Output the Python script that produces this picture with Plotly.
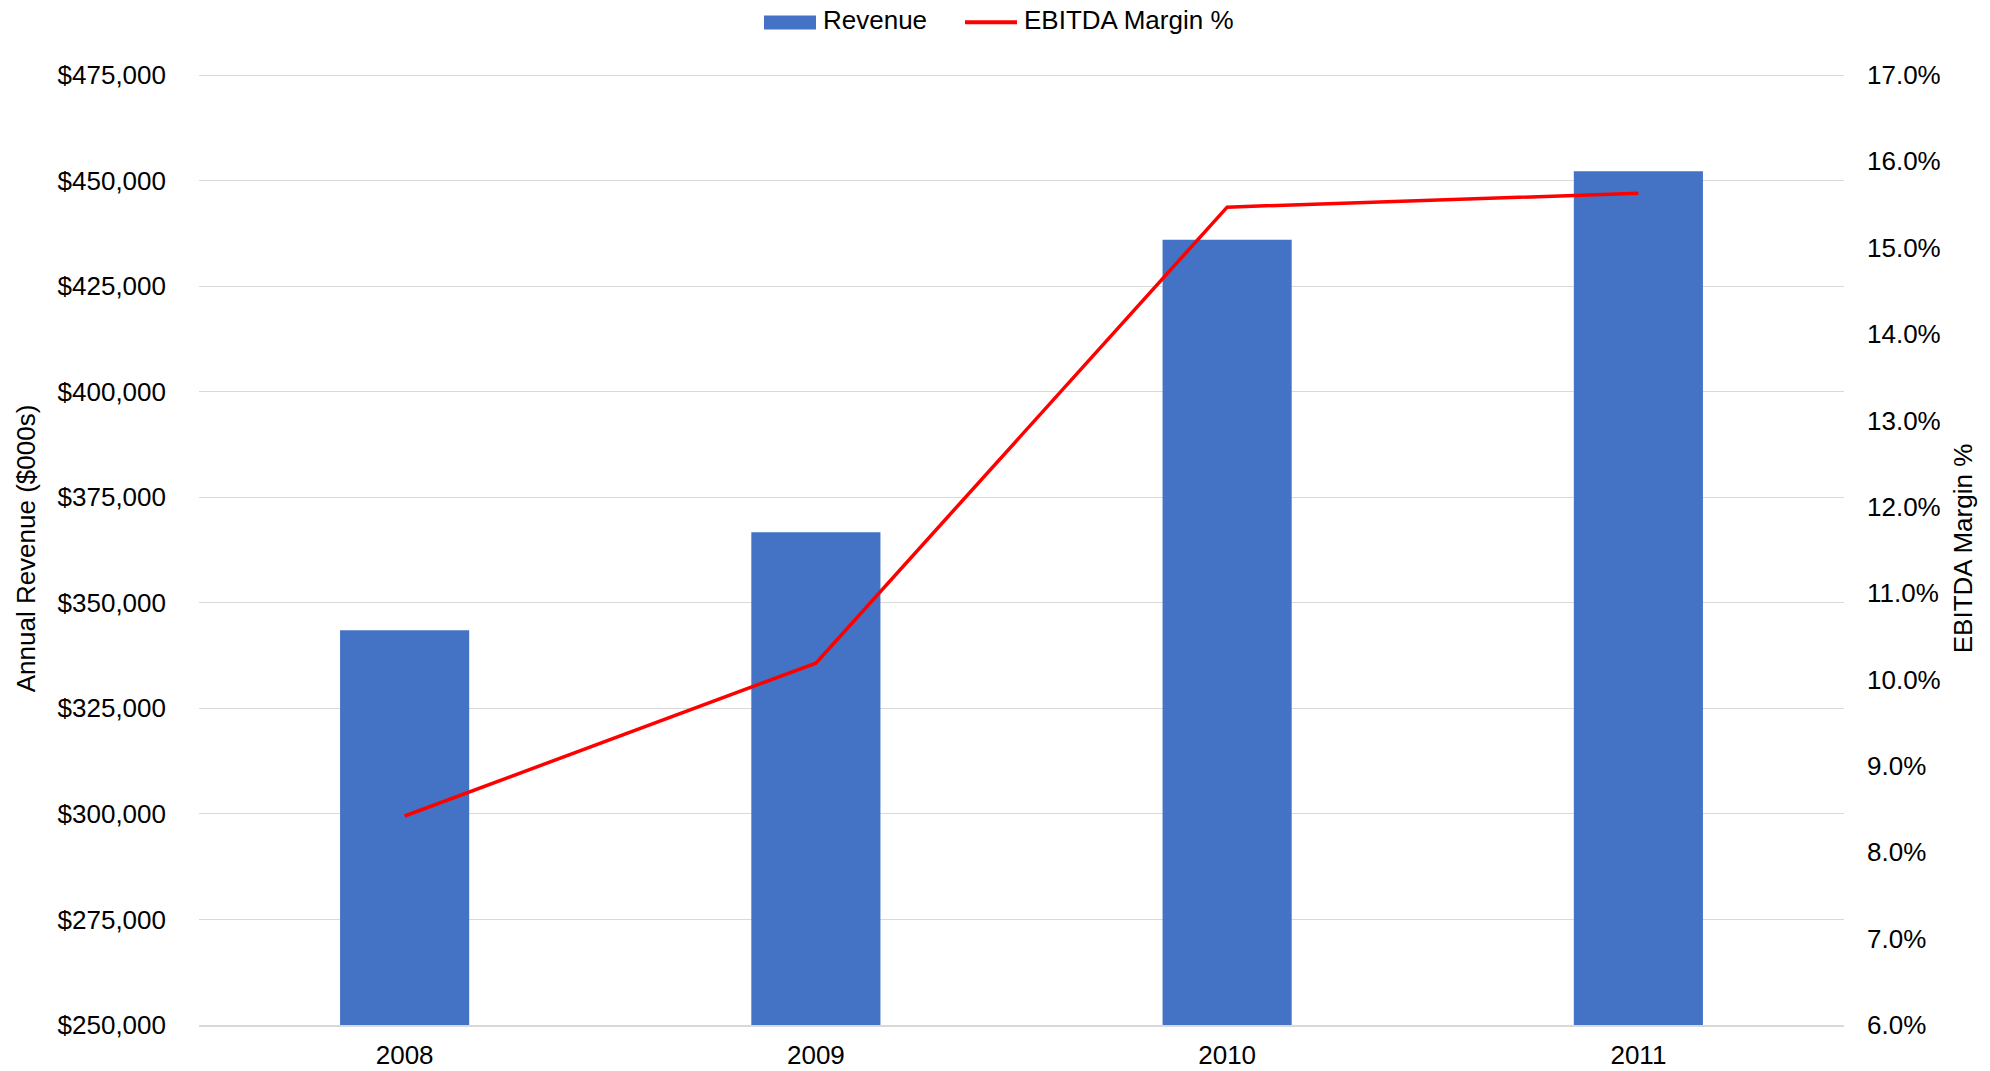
import plotly.graph_objects as go

years = ["2008", "2009", "2010", "2011"]
revenue = [343500, 366700, 436000, 452200]
ebitda_margin = [0.0842, 0.1019, 0.1547, 0.1563]

# page is rendered with the browser's default 8px body margin
OFF = 8
W, H = 1990 - OFF, 1071 - OFF
# headroom (px) above the top gridline so that it is drawn
HEAD = 3
# plot-area edges in page pixels (top gridline at 74.5, bottom at 1025.3)
PL, PR, PT, PB = 199, 1844, 74.5 - HEAD, 1025.3
L, R, T, B = PL - OFF, W - (PR - OFF), PT - OFF, H - (PB - OFF)
FONT = "Liberation Sans, Arial, sans-serif"
BLUE = "#4472C4"
RED = "#FF0000"
GRID = "#D9D9D9"

Y1_MIN, Y1_MAX, Y1_STEP = 250000, 475000, 25000
Y2_MIN, Y2_MAX, Y2_STEP = 0.06, 0.17, 0.01
SPAN_PX = 1025.3 - 74.5
y1_top = Y1_MAX + (Y1_MAX - Y1_MIN) * HEAD / SPAN_PX
y2_top = Y2_MAX + (Y2_MAX - Y2_MIN) * HEAD / SPAN_PX

def px_x(p):
    return (p - PL) / (PR - PL)

def px_y(p):
    return (PB - p) / (PB - PT)

fig = go.Figure()
fig.add_trace(go.Bar(
    x=years, y=revenue, name="Revenue",
    marker=dict(color=BLUE, line=dict(width=0)),
    yaxis="y", showlegend=False,
))
fig.add_trace(go.Scatter(
    x=years, y=ebitda_margin, name="EBITDA Margin %",
    mode="lines", line=dict(color=RED, width=3.5),
    yaxis="y2", showlegend=False,
))

# custom legend (layout decoration, not data)
fig.add_shape(type="rect", xref="paper", yref="paper",
              x0=px_x(764), x1=px_x(816), y0=px_y(29), y1=px_y(15),
              fillcolor=BLUE, line=dict(width=0))
fig.add_shape(type="line", xref="paper", yref="paper",
              x0=px_x(965), x1=px_x(1017), y0=px_y(21.7), y1=px_y(21.7),
              line=dict(color=RED, width=4))
fig.add_annotation(text="Revenue", xref="paper", yref="paper",
                   x=px_x(821), y=px_y(19.5), xanchor="left", yanchor="middle",
                   showarrow=False, font=dict(family=FONT, size=26, color="#000000"))
fig.add_annotation(text="EBITDA Margin %", xref="paper", yref="paper",
                   x=px_x(1022), y=px_y(19.5), xanchor="left", yanchor="middle",
                   showarrow=False, font=dict(family=FONT, size=26, color="#000000"))

fig.update_layout(
    width=W, height=H,
    margin=dict(l=L, r=R, t=T, b=B, pad=0, autoexpand=False),
    paper_bgcolor="white", plot_bgcolor="white",
    font=dict(family=FONT, size=26, color="#000000"),
    bargap=0.686,
    xaxis=dict(
        type="category", showgrid=False, zeroline=False, automargin=False,
        showline=True, linecolor=GRID, linewidth=1.5,
        ticks="", ticklabelstandoff=6,
        tickfont=dict(family=FONT, size=26, color="#000000"),
    ),
    yaxis=dict(
        range=[Y1_MIN, y1_top], dtick=Y1_STEP, tick0=Y1_MIN,
        tickprefix="$", tickformat=",", automargin=False,
        showgrid=True, gridcolor=GRID, gridwidth=1.2,
        zeroline=False, showline=False, ticks="",
        ticklabelstandoff=32,
        tickfont=dict(family=FONT, size=26, color="#000000"),
        title=dict(text="Annual Revenue ($000s)", standoff=14,
                   font=dict(family=FONT, size=26, color="#000000")),
    ),
    yaxis2=dict(
        range=[Y2_MIN, y2_top], dtick=Y2_STEP, tick0=Y2_MIN,
        tickformat=".1%", overlaying="y", side="right", automargin=False,
        showgrid=False, zeroline=False, showline=False, ticks="",
        ticklabelstandoff=22,
        tickfont=dict(family=FONT, size=26, color="#000000"),
        title=dict(text="EBITDA Margin %", standoff=14,
                   font=dict(family=FONT, size=26, color="#000000")),
    ),
)

fig.write_html("out.html")
